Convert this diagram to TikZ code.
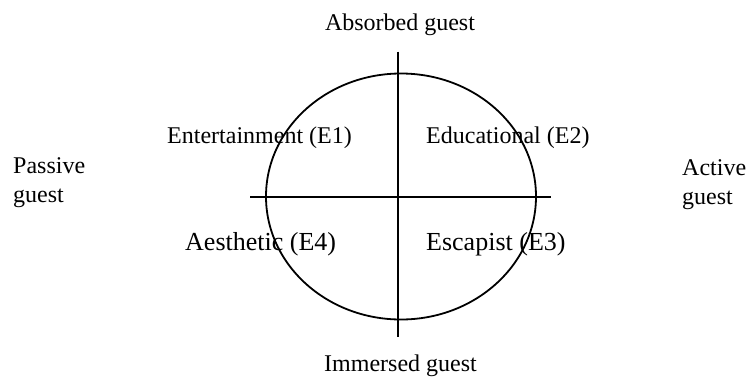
\documentclass[tikz,border=0pt]{standalone}
\usepackage{fontspec}
\setmainfont{Liberation Serif}
\usetikzlibrary{shapes.geometric}
\begin{document}
\begin{tikzpicture}[x=1pt,y=-1pt,
  axis/.style={line width=1.8pt},
  lbl/.style={inner sep=0pt,font=\fontsize{24}{29}\selectfont},
  biglbl/.style={inner sep=0pt,font=\fontsize{26}{30}\selectfont}]
\useasboundingbox (0,0) rectangle (748,378);
\coordinate (c) at (401,196.5);
\node[draw,line width=1.8pt,ellipse,minimum width=270pt,minimum height=246pt,inner sep=0pt] (circ) at (c) {};
\coordinate (vtop) at (398.3,51.7);
\coordinate (vbot) at (398.3,337.3);
\coordinate (hl) at (250,196.7);
\coordinate (hr) at (550.7,196.7);
\draw[axis] (vtop) -- (vbot);
\draw[axis] (hl) -- (hr);
\node[lbl,anchor=base] (abs) at (400,30.7) {Absorbed guest};
\node[lbl,anchor=base] (imm) at (400.5,371.5) {Immersed guest};
\node[lbl,anchor=base west,align=left] (pas) at (13,202.3) {Passive\\guest};
\node[lbl,anchor=base west,align=left] (act) at (682,204) {Active\\guest};
\node[lbl,anchor=base west] (e1) at (167,143) {Entertainment (E1)};
\node[lbl,anchor=base west] (e2) at (426,143) {Educational (E2)};
\node[biglbl,anchor=base west] (e4) at (185,250) {Aesthetic (E4)};
\node[biglbl,anchor=base west] (e3) at (426,250) {Escapist (E3)};
\end{tikzpicture}
\end{document}
